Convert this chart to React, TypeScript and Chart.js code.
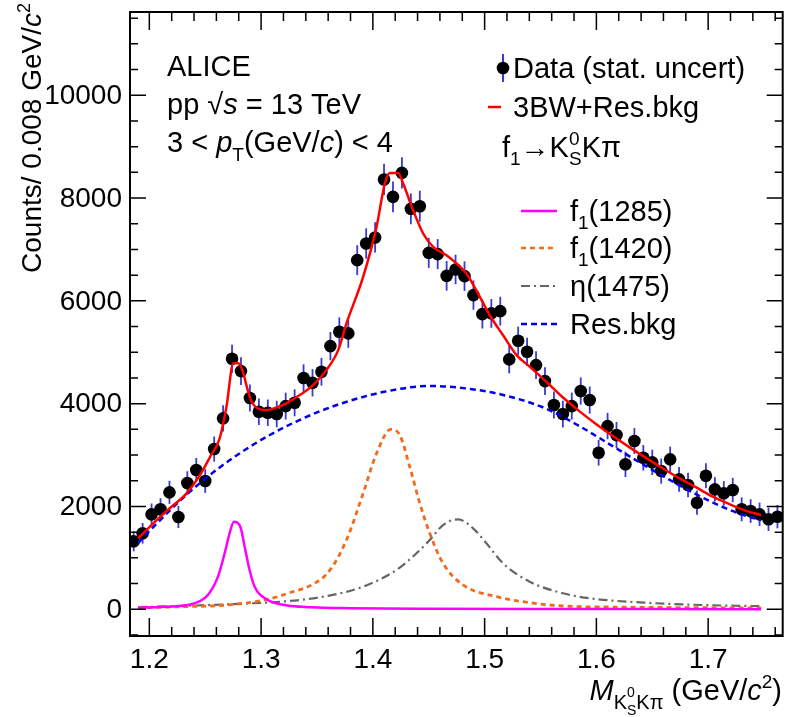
import React, { useEffect, useRef } from "react";
import { Chart, registerables } from "chart.js";

Chart.register(...registerables);

// ---------------- data ----------------
const binCenters = [
  1.186, 1.194, 1.202, 1.210, 1.218, 1.226, 1.234, 1.242, 1.250, 1.258,
  1.266, 1.274, 1.282, 1.290, 1.298, 1.306, 1.314, 1.322, 1.330, 1.338,
  1.346, 1.354, 1.362, 1.370, 1.378, 1.386, 1.394, 1.402, 1.410, 1.418,
  1.426, 1.434, 1.442, 1.450, 1.458, 1.466, 1.474, 1.482, 1.490, 1.498,
  1.506, 1.514, 1.522, 1.530, 1.538, 1.546, 1.554, 1.562, 1.570, 1.578,
  1.586, 1.594, 1.602, 1.610, 1.618, 1.626, 1.634, 1.642, 1.650, 1.658,
  1.666, 1.674, 1.682, 1.690, 1.698, 1.706, 1.714, 1.722, 1.730, 1.738,
  1.746, 1.754, 1.762,
];
const counts = [
  1322, 1478, 1847, 1945, 2275, 1795, 2456, 2709, 2495, 3117,
  3714, 4873, 4634, 4109, 3843, 3823, 3798, 3953, 4018, 4498,
  4407, 4621, 5120, 5398, 5367, 6792, 7117, 7234, 8361, 8023,
  8490, 7790, 7842, 6934, 6909, 6487, 6611, 6481, 6112, 5742,
  5756, 5800, 4861, 5223, 5009, 4750, 4439, 3973, 3798, 3953,
  4245, 4070, 3045, 3564, 3389, 2820, 3273, 2948, 2858, 2689,
  2917, 2528, 2417, 2073, 2598, 2333, 2256, 2320, 1945, 1911,
  1847, 1750, 1801,
];
const statErr = [
  195, 200, 210, 215, 225, 215, 230, 235, 230, 245,
  255, 275, 270, 262, 258, 258, 258, 262, 262, 268,
  266, 270, 275, 280, 280, 290, 295, 295, 305, 300,
  305, 300, 300, 292, 292, 288, 288, 288, 285, 280,
  280, 280, 272, 276, 274, 270, 268, 262, 260, 262,
  265, 263, 250, 256, 254, 247, 252, 248, 246, 244,
  248, 242, 240, 236, 242, 238, 238, 238, 232, 230,
  228, 226, 226,
];

// 3BW + Res.bkg fit
const fitX = [
  1.190, 1.2035, 1.218, 1.2333, 1.245, 1.2544, 1.263, 1.269, 1.2752, 1.2797,
  1.2842, 1.2872, 1.2916, 1.2991, 1.3051, 1.314, 1.3226, 1.3346, 1.3465, 1.3584,
  1.369, 1.3764, 1.3913, 1.4033, 1.4107, 1.4152, 1.4226, 1.4271, 1.436, 1.445,
  1.4539, 1.4659, 1.4748, 1.4837, 1.4927, 1.5046, 1.5165, 1.5284, 1.5403, 1.5552,
  1.5701, 1.585, 1.5999, 1.6148, 1.6297, 1.6447, 1.6595, 1.6745, 1.6894, 1.7042,
  1.7191, 1.734, 1.7474,
];
const fitY = [
  1381, 1672, 1960, 2256, 2600, 2967, 3330, 3940, 4784, 4784,
  4589, 4329, 4037, 3889, 3875, 3928, 4006, 4167, 4361, 4653,
  5042, 5561, 6467, 7440, 8284, 8490, 8490, 8284, 7764, 7311,
  7051, 6889, 6728, 6533, 6200, 5720, 5330, 4950, 4720, 4426,
  4120, 3850, 3600, 3370, 3150, 2940, 2740, 2545, 2370, 2190,
  2045, 1915, 1830,
];

// residual background
const bkgX = [
  1.190, 1.2035, 1.2333, 1.263, 1.2928, 1.3226, 1.3524, 1.380, 1.410, 1.4509,
  1.4957, 1.5255, 1.5553, 1.5851, 1.6149, 1.6447, 1.6745, 1.7043, 1.7341, 1.7474,
];
const bkgY = [
  1290, 1600, 2230, 2760, 3200, 3560, 3850, 4060, 4230, 4345,
  4260, 4120, 3900, 3560, 3170, 2780, 2410, 2075, 1815, 1735,
];

// f1(1285)
const f1285X = [
  1.190, 1.210, 1.2256, 1.2405, 1.2524, 1.2614, 1.2674, 1.2718, 1.2757, 1.2817,
  1.2853, 1.2897, 1.2942, 1.3061, 1.321, 1.3448, 1.380, 1.450, 1.550, 1.650,
  1.7474,
];
const f1285Y = [
  30, 45, 64, 117, 278, 634, 1089, 1478, 1704, 1587,
  1217, 764, 440, 181, 84, 40, 22, 10, 5, 3,
  2,
];

// f1(1420)
const f1420X = [
  1.190, 1.230, 1.2703, 1.3061, 1.324, 1.3478, 1.3615, 1.3764, 1.3913, 1.4033,
  1.4161, 1.4241, 1.433, 1.442, 1.4509, 1.4628, 1.4807, 1.5105, 1.5403, 1.5701,
  1.620, 1.700, 1.7474,
];
const f1420Y = [
  30, 50, 84, 194, 311, 505, 760, 1348, 2256, 3033,
  3500, 3389, 2773, 2061, 1478, 894, 473, 245, 128, 64,
  42, 30, 25,
];

// eta(1475)
const eta1475X = [
  1.190, 1.2703, 1.3300, 1.3597, 1.3913, 1.4211, 1.439, 1.4509, 1.4628, 1.4762,
  1.4897, 1.5016, 1.5165, 1.5403, 1.5701, 1.594, 1.650, 1.700, 1.7474,
];
const eta1475Y = [
  40, 97, 170, 260, 440, 764, 1089, 1348, 1639, 1750,
  1575, 1283, 894, 537, 311, 214, 120, 80, 60,
];

const xTickValues = [1.2, 1.3, 1.4, 1.5, 1.6, 1.7];
const xTickLabels = ["1.2", "1.3", "1.4", "1.5", "1.6", "1.7"];
const yTickValues = [0, 2000, 4000, 6000, 8000, 10000];
const yTickLabels = ["0", "2000", "4000", "6000", "8000", "10000"];

const X_MIN = 1.1827;
const X_MAX = 1.7667;
const Y_MIN = -520;
const Y_MAX = 11620;

// ---------------- styling ----------------
const FONT = '"Liberation Sans", Arial, Helvetica, sans-serif';
const C_RED = "#ff0000";
const C_MAG = "#ff00ff";
const C_ORANGE = "#f26b1d";
const C_GRAY = "#666666";
const C_BLUE = "#0000ee";
const C_ERR = "#3a3ad0";

type Seg = { t: string; size: number; italic?: boolean; dy?: number; stack?: boolean };

function fontOf(s: Seg) {
  return `${s.italic ? "italic " : ""}${s.size}px ${FONT}`;
}

function richWidth(ctx: CanvasRenderingContext2D, segs: Seg[]) {
  let w = 0;
  let pending = 0;
  for (const s of segs) {
    ctx.font = fontOf(s);
    const sw = ctx.measureText(s.t).width;
    if (s.stack) {
      pending = Math.max(pending, sw);
    } else {
      w += Math.max(pending, sw);
      pending = 0;
    }
  }
  return w + pending;
}

function drawRich(ctx: CanvasRenderingContext2D, x: number, y: number, segs: Seg[]) {
  let cx = x;
  let pending = 0;
  ctx.textAlign = "left";
  ctx.textBaseline = "alphabetic";
  for (const s of segs) {
    ctx.font = fontOf(s);
    const sw = ctx.measureText(s.t).width;
    ctx.fillText(s.t, cx, y + (s.dy || 0));
    if (s.stack) {
      pending = Math.max(pending, sw);
    } else {
      cx += Math.max(pending, sw);
      pending = 0;
    }
  }
}

const overlayPlugin = {
  id: "aliceOverlay",
  beforeDatasetsDraw(chart: any) {
    const ctx: CanvasRenderingContext2D = chart.ctx;
    const xs = chart.scales.x;
    const ys = chart.scales.y;
    ctx.save();
    ctx.strokeStyle = C_ERR;
    ctx.lineWidth = 1.8;
    for (let i = 0; i < binCenters.length; i++) {
      const px = xs.getPixelForValue(binCenters[i]);
      if (px > chart.chartArea.right) continue;
      const y1 = ys.getPixelForValue(counts[i] - statErr[i]);
      const y2 = ys.getPixelForValue(counts[i] + statErr[i]);
      ctx.beginPath();
      ctx.moveTo(px, y1);
      ctx.lineTo(px, y2);
      ctx.stroke();
    }
    ctx.restore();
  },
  afterDraw(chart: any) {
    const ctx: CanvasRenderingContext2D = chart.ctx;
    const xs = chart.scales.x;
    const ys = chart.scales.y;
    const a = chart.chartArea;
    ctx.save();
    ctx.fillStyle = "#000";
    ctx.strokeStyle = "#000";

    // ticks
    ctx.lineWidth = 1.5;
    const xMajor = 18, xMinor = 9, yMajor = 16, yMinor = 8;
    for (let v = 1.18; v <= 1.77; v += 0.02) {
      const vv = Math.round(v * 100) / 100;
      if (vv < X_MIN || vv > X_MAX) continue;
      const isMajor = xTickValues.some((t) => Math.abs(t - vv) < 1e-6);
      const len = isMajor ? xMajor : xMinor;
      const px = xs.getPixelForValue(vv);
      ctx.beginPath();
      ctx.moveTo(px, a.bottom);
      ctx.lineTo(px, a.bottom - len);
      ctx.moveTo(px, a.top);
      ctx.lineTo(px, a.top + len);
      ctx.stroke();
    }
    for (let v = -500; v <= 11500; v += 500) {
      if (v < Y_MIN || v > Y_MAX) continue;
      const isMajor = yTickValues.includes(v);
      const len = isMajor ? yMajor : yMinor;
      const py = ys.getPixelForValue(v);
      ctx.beginPath();
      ctx.moveTo(a.left, py);
      ctx.lineTo(a.left + len, py);
      ctx.moveTo(a.right, py);
      ctx.lineTo(a.right - len, py);
      ctx.stroke();
    }

    // frame
    ctx.lineWidth = 2;
    ctx.strokeRect(a.left, a.top, a.right - a.left, a.bottom - a.top);

    // tick labels
    ctx.font = `28px ${FONT}`;
    ctx.textAlign = "center";
    ctx.textBaseline = "top";
    xTickValues.forEach((v, i) => {
      ctx.fillText(xTickLabels[i], xs.getPixelForValue(v), a.bottom + 10);
    });
    ctx.textAlign = "right";
    ctx.textBaseline = "middle";
    yTickValues.forEach((v, i) => {
      ctx.fillText(yTickLabels[i], a.left - 8, ys.getPixelForValue(v) + 1);
    });

    // x axis title
    const xTitle: Seg[] = [
      { t: "M", size: 29, italic: true },
      { t: "K", size: 20, dy: 9 },
      { t: "0", size: 14, dy: -3, stack: true },
      { t: "S", size: 14, dy: 15 },
      { t: "K\u03c0", size: 20, dy: 9 },
      { t: " (GeV/", size: 29 },
      { t: "c", size: 29, italic: true },
      { t: "2", size: 19, dy: -12 },
      { t: ")", size: 29 },
    ];
    const xw = richWidth(ctx, xTitle);
    drawRich(ctx, 782 - xw, 700, xTitle);

    // y axis title (rotated)
    const yTitle: Seg[] = [
      { t: "Counts/ 0.008 GeV/", size: 28 },
      { t: "c", size: 28, italic: true },
      { t: "2", size: 18, dy: -11 },
    ];
    const yw = richWidth(ctx, yTitle);
    ctx.save();
    ctx.translate(41, 3);
    ctx.rotate(-Math.PI / 2);
    drawRich(ctx, -yw, 0, yTitle);
    ctx.restore();

    // ALICE texts
    drawRich(ctx, 167, 76, [{ t: "ALICE", size: 29 }]);
    drawRich(ctx, 167, 114, [
      { t: "pp ", size: 29 },
      { t: "\u221a", size: 29 },
      { t: "s", size: 29, italic: true },
      { t: " = 13 TeV", size: 29 },
    ]);
    drawRich(ctx, 167, 152, [
      { t: "3 < ", size: 29 },
      { t: "p", size: 29, italic: true },
      { t: "T", size: 19, dy: 9 },
      { t: "(GeV/", size: 29 },
      { t: "c", size: 29, italic: true },
      { t: ") < 4", size: 29 },
    ]);

    // legend: data marker
    ctx.strokeStyle = C_ERR;
    ctx.lineWidth = 2;
    ctx.beginPath();
    ctx.moveTo(503, 54);
    ctx.lineTo(503, 82);
    ctx.stroke();
    ctx.fillStyle = "#000";
    ctx.beginPath();
    ctx.arc(503, 68, 6.3, 0, Math.PI * 2);
    ctx.fill();
    drawRich(ctx, 513, 78, [{ t: "Data (stat. uncert)", size: 29 }]);

    ctx.strokeStyle = C_RED;
    ctx.lineWidth = 2.5;
    ctx.beginPath();
    ctx.moveTo(488, 107);
    ctx.lineTo(501, 107);
    ctx.stroke();
    drawRich(ctx, 513, 117, [{ t: "3BW+Res.bkg", size: 29 }]);

    drawRich(ctx, 502, 157, [
      { t: "f", size: 29 },
      { t: "1", size: 19, dy: 8 },
      { t: "\u2192K", size: 29 },
      { t: "0", size: 19, dy: -12, stack: true },
      { t: "S", size: 19, dy: 8 },
      { t: "K\u03c0", size: 29 },
    ]);

    const legendLines: { y: number; color: string; dash: number[]; width: number; label: Seg[] }[] = [
      { y: 211, color: C_MAG, dash: [], width: 2.5, label: [{ t: "f", size: 29 }, { t: "1", size: 19, dy: 8 }, { t: "(1285)", size: 29 }] },
      { y: 248, color: C_ORANGE, dash: [5, 4], width: 2.5, label: [{ t: "f", size: 29 }, { t: "1", size: 19, dy: 8 }, { t: "(1420)", size: 29 }] },
      { y: 286, color: C_GRAY, dash: [9, 4, 2, 4], width: 2, label: [{ t: "\u03b7(1475)", size: 29 }] },
      { y: 324, color: C_BLUE, dash: [6, 4], width: 2.5, label: [{ t: "Res.bkg", size: 29 }] },
    ];
    for (const l of legendLines) {
      ctx.strokeStyle = l.color;
      ctx.lineWidth = l.width;
      ctx.setLineDash(l.dash);
      ctx.beginPath();
      ctx.moveTo(521, l.y);
      ctx.lineTo(557, l.y);
      ctx.stroke();
      ctx.setLineDash([]);
      ctx.fillStyle = "#000";
      drawRich(ctx, 570, l.y + 10, l.label);
    }

    ctx.restore();
  },
};

function toXY(xs: number[], ys: number[]) {
  return xs.map((x, i) => ({ x, y: ys[i] }));
}

export default function App() {
  const canvasRef = useRef<HTMLCanvasElement | null>(null);

  useEffect(() => {
    const canvas = canvasRef.current;
    if (!canvas) return;
    const lineDs = (label: string, xs: number[], ys: number[], color: string, width: number, dash: number[]) => ({
      label,
      data: toXY(xs, ys),
      showLine: true,
      borderColor: color,
      backgroundColor: color,
      borderWidth: width,
      borderDash: dash,
      pointRadius: 0,
      fill: false,
      cubicInterpolationMode: "monotone",
    });
    const chart = new Chart(canvas, {
      type: "scatter",
      data: {
        datasets: [
          lineDs("3BW+Res.bkg", fitX, fitY, C_RED, 2.5, []),
          lineDs("f1(1285)", f1285X, f1285Y, C_MAG, 2.5, []),
          lineDs("f1(1420)", f1420X, f1420Y, C_ORANGE, 2.8, [5, 4]),
          lineDs("eta(1475)", eta1475X, eta1475Y, C_GRAY, 2.2, [9, 4, 2, 4]),
          lineDs("Res.bkg", bkgX, bkgY, C_BLUE, 2.5, [6, 4]),
          {
            label: "Data (stat. uncert)",
            data: toXY(binCenters, counts),
            showLine: false,
            pointRadius: 6.3,
            pointStyle: "circle",
            backgroundColor: "#000",
            borderColor: "#000",
            borderWidth: 0,
          },
        ] as any,
      },
      options: {
        animation: false,
        responsive: false,
        maintainAspectRatio: false,
        devicePixelRatio: 1,
        layout: { padding: { left: 130, top: 12, right: 6, bottom: 81 } },
        scales: {
          x: { type: "linear", min: X_MIN, max: X_MAX, display: false },
          y: { type: "linear", min: Y_MIN, max: Y_MAX, display: false },
        },
        plugins: {
          legend: { display: false },
          tooltip: { enabled: false },
        },
        clip: 0 as any,
      },
      plugins: [overlayPlugin],
    });
    return () => chart.destroy();
  }, []);

  return (
    <div style={{ position: "absolute", left: 0, top: 0, width: 789, height: 717, background: "#fff" }}>
      <canvas ref={canvasRef} width={789} height={717} style={{ display: "block", width: 789, height: 717 }} />
    </div>
  );
}
